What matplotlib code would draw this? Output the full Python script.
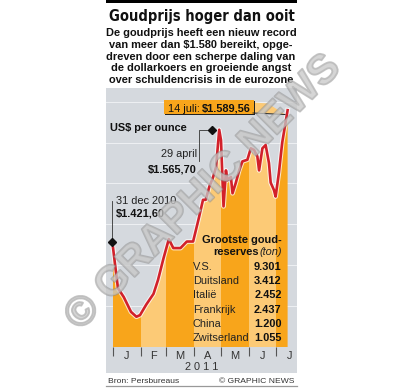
import matplotlib
matplotlib.use('Agg')
import matplotlib.pyplot as plt
import matplotlib.patheffects as pe
import matplotlib.transforms as mtransforms
from matplotlib.patches import Rectangle, Polygon
from matplotlib import font_manager

# ---------------- data ----------------
days = [0, 5.5, 12, 20, 26, 30, 37, 45, 50, 56, 62, 67, 75, 82, 89, 95, 100, 103,
        107, 111, 114.5, 118, 120, 122.8, 125.5, 127.2, 131, 132.8, 136.5, 140.2,
        143.8, 149.3, 153.1, 156.7, 160.4, 162.3, 166, 169.6, 173.3, 175.2, 178.8,
        180.7, 184.3, 188, 194]
prices = [1421.6, 1372, 1361, 1343, 1337, 1339, 1352, 1365, 1382, 1408, 1432, 1421,
          1421, 1429, 1429, 1456, 1480, 1480, 1496, 1507, 1520, 1565.7, 1553, 1472,
          1516, 1504, 1508, 1488, 1501, 1516, 1527, 1529, 1543, 1541, 1533, 1516,
          1543, 1547, 1525, 1501, 1492, 1484, 1513, 1550, 1589.56]
month_starts = [0, 31, 59, 90, 120, 151, 181]
month_ends = [31, 59, 90, 120, 151, 181, 212]
month_labels = ['J', 'F', 'M', 'A', 'M', 'J', 'J']
year_label = '2 0 1 1'
grid_levels = [1350, 1400, 1450, 1500, 1550, 1600]
reserve_countries = ['V.S.', 'Duitsland', 'Italië', 'Frankrijk', 'China', 'Zwitserland']
reserve_tons = ['9.301', '3.412', '2.452', '2.437', '1.200', '1.055']

title = 'Goudprijs hoger dan ooit'
subtitle = ['De goudprijs heeft een nieuw record',
            'van meer dan $1.580 bereikt, opge-',
            'dreven door een scherpe daling van',
            'de dollarkoers en groeiende angst',
            'over schuldencrisis in de eurozone']

# ---------------- style ----------------
W, H = 404, 388
GRAY = '#d5d9de'
DARK_OR = '#f8a51b'
LIGHT_OR = '#fcca76'
RED = '#d2202a'
SANS = ['Liberation Sans', 'DejaVu Sans']
FS = 7.9

# choose a condensed bold face for the title if one is installed
names = {f.name for f in font_manager.fontManager.ttflist}
title_kw = dict(family=SANS, fontweight='bold')
if 'Liberation Sans Narrow' in names:
    title_kw = dict(family=['Liberation Sans Narrow'] + SANS, fontweight='bold')
else:
    cond = [f for f in font_manager.fontManager.ttflist
            if f.name == 'DejaVu Sans' and 'ondensed' in str(f.stretch) and f.weight in (700, 'bold')]
    if cond:
        title_kw = dict(family=['DejaVu Sans'], fontweight='bold', fontstretch='condensed')

fig = plt.figure(figsize=(W / 100, H / 100), dpi=100)
fig.patch.set_facecolor('white')

# background axes (pixel coords, top-left origin)
bg = fig.add_axes([0, 0, 1, 1], zorder=0)
bg.set_xlim(0, W); bg.set_ylim(H, 0); bg.axis('off')
bg.add_patch(Rectangle((106, 88), 191, 284.7, facecolor=GRAY, edgecolor='none'))
bg.add_patch(Rectangle((106, 0), 191, 2.8, facecolor='black', edgecolor='none'))
bg.plot([106, 297], [386, 386], color='#999999', lw=0.9)

# data axes
ax = fig.add_axes([106 / W, (H - 347) / H, 191 / W, 257 / H], zorder=1)
ax.set_facecolor('none')
ax.set_xlim(-7.78, 204.44)
ax.set_ylim(1300, 1614.3)
for s in ax.spines.values():
    s.set_visible(False)
ax.set_yticks(grid_levels)
ax.tick_params(axis='y', length=0, labelleft=False)
ax.grid(axis='y', color='#eef0f3', lw=0.7, zorder=0)
ax.set_axisbelow(True)
ax.set_xticks(month_starts)
ax.tick_params(axis='x', which='major', length=6.5, width=0.8, color='#555555',
               direction='out', labelbottom=False)

poly = ax.fill_between(days, prices, 1300, facecolor='none', edgecolor='none')
clip = poly.get_paths()[0]
for i, (s, e) in enumerate(zip(month_starts, month_ends)):
    r = ax.axvspan(s, e, facecolor=DARK_OR if i % 2 == 0 else LIGHT_OR,
                   edgecolor='none', zorder=2)
    r.set_clip_path(clip, ax.transData)

ax.plot(days, prices, color=RED, lw=1.9, zorder=4, solid_joinstyle='round',
        path_effects=[pe.Stroke(linewidth=3.4, foreground='white', alpha=0.75), pe.Normal()])

# month labels
lab_tr = mtransforms.blended_transform_factory(ax.transData, ax.transAxes)
for s, e, lab in zip(month_starts, month_ends, month_labels):
    ax.text((s + e) / 2, -11.7 / 257, lab, transform=lab_tr, ha='center', va='baseline',
            fontsize=FS, family=SANS, color='#333333', clip_on=False)

# annotation leaders
ax.plot([-1.5, -1.5], [1429, 1478], color='#333333', lw=0.6, zorder=5, clip_on=False)
ax.plot([-1.5], [1429], marker='D', ms=4.2, color='#111111', zorder=6, clip_on=False)
ax.plot([109.7, 96, 96], [1565.7, 1565.7, 1527.8], color='#333333', lw=0.6, zorder=5)
ax.plot([109.7], [1565.7], marker='D', ms=4.2, color='#111111', zorder=6)

# overlay axes for text
ov = fig.add_axes([0, 0, 1, 1], zorder=2)
ov.set_xlim(0, W); ov.set_ylim(H, 0); ov.axis('off')

# title: fit close to the reference width
t = ov.text(201.5, 20.7, title, ha='center', va='baseline', fontsize=13.1,
            color='#111111', **title_kw)
fig.canvas.draw()
w = t.get_window_extent().width
if w > 186:
    t.set_fontsize(13.1 * 185 / w)

for i, line in enumerate(subtitle):
    ov.text(201, 36.5 + i * 11.65, line, ha='center', va='baseline', fontsize=FS,
            fontweight='bold', family=SANS, color='#111111')

ov.text(110, 131.3, 'US$ per ounce', ha='left', va='baseline', fontsize=FS,
        fontweight='bold', family=SANS, color='#111111')

ov.text(115.5, 204, '31 dec 2010', ha='left', va='baseline', fontsize=FS,
        family=SANS, color='#222222')
ov.text(115.5, 216.5, '$1.421,60', ha='left', va='baseline', fontsize=FS,
        fontweight='bold', family=SANS, color='#111111')
ov.text(197, 157, '29 april', ha='right', va='baseline', fontsize=FS,
        family=SANS, color='#222222')
ov.text(196.5, 172, '$1.565,70', ha='right', va='baseline', fontsize=FS,
        fontweight='bold', family=SANS, color='#111111')

# callout 14 juli
ov.add_patch(Polygon([(253, 102.5), (253, 112.5), (285, 114.5), (268, 103.5)],
                     closed=True, facecolor=LIGHT_OR, edgecolor='none'))
ov.plot([253, 285], [113, 114.5], color='#222222', lw=0.7)
ov.add_patch(Rectangle((165, 101), 90, 14, facecolor='#222222', edgecolor='none'))
ov.add_patch(Rectangle((164, 100), 90, 14, facecolor=DARK_OR, edgecolor='none'))
ov.text(168, 111.5, '14 juli:', ha='left', va='baseline', fontsize=FS,
        family=SANS, color='#111111')
ov.text(250.5, 111.5, '$1.589,56', ha='right', va='baseline', fontsize=FS,
        fontweight='bold', family=SANS, color='#111111')

# reserves table
ov.text(281.7, 243, 'Grootste goud-', ha='right', va='baseline', fontsize=FS,
        fontweight='bold', family=SANS, color='#111111')
ov.text(281.7, 255, '(ton)', ha='right', va='baseline', fontsize=FS,
        fontstyle='italic', family=SANS, color='#222222')
ov.text(259, 255, 'reserves', ha='right', va='baseline', fontsize=FS,
        fontweight='bold', family=SANS, color='#111111')
for i, (c, tn) in enumerate(zip(reserve_countries, reserve_tons)):
    y = 270 + i * 14.2
    ov.text(192.7, y, c, ha='left', va='baseline', fontsize=FS, family=SANS,
            color='#222222')
    ov.text(281.7, y, tn, ha='right', va='baseline', fontsize=FS, fontweight='bold',
            family=SANS, color='#111111')

ov.text(202, 370, year_label, ha='center', va='baseline', fontsize=FS,
        family=SANS, color='#333333')

ov.text(108.3, 382.7, 'Bron: Persbureaus', ha='left', va='baseline', fontsize=6.1,
        family=SANS, color='#333333')
ov.text(294.5, 382.7, '© GRAPHIC NEWS', ha='right', va='baseline', fontsize=6.1,
        family=SANS, color='#333333')

# watermark
ov.text(203, 193, '© GRAPHIC NEWS', ha='center', va='center', rotation=45,
        fontsize=30, fontweight='bold', family=SANS, color='#c8c8c8', alpha=0.5,
        path_effects=[pe.withStroke(linewidth=1.4, foreground='#8a8a8a')], zorder=10)

fig.savefig('out.png', dpi=100)
